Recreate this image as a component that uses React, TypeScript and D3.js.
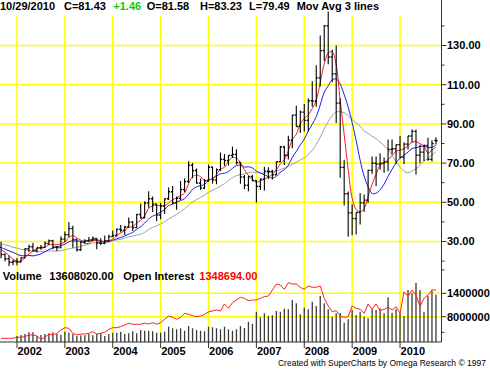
import React from "react";
import * as d3 from "d3";

// Monthly bars: Sep 2001 .. Oct 2010
const priorCloses = [25.74, 29.01, 32.5, 27.43, 33.12, 30.84, 32.7, 33.82, 26.8, 28.66, 27.39, 26.29, 28.46, 28.37, 26.25, 26.35, 27.2];

const openP = [
  27.0, 23.4, 21.2, 19.4,
  19.8, 19.5, 21.7, 26.3, 27.3, 25.3, 26.9, 27.0, 29.0, 30.4, 27.2, 26.9,
  31.2, 33.5, 36.6, 31.0, 25.8, 29.6, 30.2, 30.5, 31.6, 29.2, 29.1, 30.4,
  32.5, 33.1, 36.2, 35.8, 37.4, 39.9, 37.1, 43.8, 42.1, 49.6, 51.8, 49.1,
  43.5, 48.2, 51.8, 55.4, 49.7, 52.0, 56.5, 60.6, 68.9, 66.2, 59.8, 57.3,
  61.0, 67.9, 61.4, 66.6, 71.9, 71.3, 73.9, 74.4, 70.3, 62.9, 58.7, 63.1,
  61.1, 58.1, 61.8, 65.9, 65.7, 64.0, 70.7, 78.2, 74.0, 81.7, 94.5, 88.7,
  96.0, 91.8, 101.8, 101.6, 113.5, 127.4, 140.0, 124.1, 115.5, 100.6, 67.8, 54.4,
  44.6, 41.7, 44.8, 49.7, 51.1, 66.3, 69.9, 69.5, 70.0, 70.6, 77.0, 77.3,
  79.4, 72.9, 79.7, 83.8, 86.2, 74.0, 75.6, 79.0, 71.9, 81.58,
];
const highP = [
  29.9, 23.9, 22.9, 20.6,
  21.6, 21.9, 26.5, 28.4, 29.4, 26.9, 28.2, 30.0, 31.0, 30.9, 27.5, 32.7,
  35.1, 40.0, 38.0, 31.1, 30.2, 31.2, 32.3, 32.5, 31.7, 31.7, 33.0, 33.4,
  35.6, 36.6, 38.4, 38.0, 42.3, 40.4, 44.0, 49.4, 50.5, 55.7, 52.9, 49.1,
  49.8, 52.0, 57.6, 58.3, 53.0, 60.9, 62.1, 70.9, 70.0, 67.2, 62.1, 61.9,
  69.2, 68.3, 67.3, 75.4, 74.6, 74.0, 78.4, 77.1, 70.4, 63.9, 63.5, 64.0,
  61.3, 62.2, 68.1, 67.9, 66.6, 70.7, 78.8, 78.8, 83.9, 94.7, 99.3, 96.8,
  100.1, 103.0, 111.8, 119.9, 135.1, 140.4, 147.3, 127.8, 130.0, 103.1, 71.7, 55.5,
  49.0, 44.8, 54.7, 54.0, 66.6, 73.4, 73.4, 75.0, 72.9, 82.0, 82.0, 79.4,
  84.0, 80.5, 83.8, 87.2, 87.2, 79.4, 79.3, 82.9, 81.6, 83.23,
];
const lowP = [
  21.5, 19.9, 17.5, 17.9,
  17.9, 19.3, 21.5, 24.7, 24.9, 24.4, 25.8, 26.5, 28.3, 26.1, 25.1, 26.5,
  29.6, 32.2, 26.8, 24.9, 25.1, 28.9, 29.8, 30.4, 26.0, 28.2, 28.6, 30.0,
  32.2, 32.6, 34.7, 33.3, 37.0, 35.4, 36.9, 41.7, 41.8, 47.2, 45.1, 40.3,
  41.3, 44.0, 51.2, 49.1, 46.2, 51.2, 55.3, 59.9, 62.3, 59.6, 56.3, 56.7,
  60.5, 59.5, 59.2, 65.9, 68.5, 68.8, 72.6, 69.3, 59.5, 56.6, 55.6, 60.7,
  49.9, 56.3, 56.0, 61.9, 61.6, 63.9, 70.6, 69.0, 71.8, 77.6, 88.6, 85.4,
  86.1, 86.1, 98.7, 98.7, 109.1, 122.1, 120.4, 111.3, 90.5, 62.5, 48.4, 32.4,
  33.2, 33.6, 38.7, 45.0, 49.7, 64.6, 58.3, 66.6, 65.1, 65.9, 74.5, 69.5,
  72.4, 69.5, 77.0, 80.6, 64.2, 69.9, 71.1, 71.2, 70.8, 79.49,
];
const closeP = [
  23.4, 21.2, 19.4, 19.8,
  19.5, 21.7, 26.3, 27.3, 25.3, 26.9, 27.0, 29.0, 30.4, 27.2, 26.9, 31.2,
  33.5, 36.6, 31.0, 25.8, 29.6, 30.2, 30.5, 31.6, 29.2, 29.1, 30.4, 32.5,
  33.1, 36.2, 35.8, 37.4, 39.9, 37.1, 43.8, 42.1, 49.6, 51.8, 49.1, 43.5,
  48.2, 51.8, 55.4, 49.7, 52.0, 56.5, 60.6, 68.9, 66.2, 59.8, 57.3, 61.0,
  67.9, 61.4, 66.6, 71.9, 71.3, 73.9, 74.4, 70.3, 62.9, 58.7, 63.1, 61.1,
  58.1, 61.8, 65.9, 65.7, 64.0, 70.7, 78.2, 74.0, 81.7, 94.5, 88.7, 96.0,
  91.8, 101.8, 101.6, 113.5, 127.4, 140.0, 124.1, 115.5, 100.6, 67.8, 54.4, 44.6,
  41.7, 44.8, 49.7, 51.1, 66.3, 69.9, 69.5, 70.0, 70.6, 77.0, 77.3, 79.4,
  72.9, 79.7, 83.8, 86.2, 74.0, 75.6, 79.0, 71.9, 79.97, 81.43,
];

// Volume (millions of contracts), Jan 2002 .. Oct 2010
const volumeM = [
  3.05, 3.3, 3.56, 4.0, 4.0, 3.05, 3.3, 3.56, 3.74, 4.0, 3.56, 3.3,
  4.15, 3.9, 3.56, 3.05, 3.23, 3.23, 3.56, 3.23, 3.56, 3.74, 3.05, 3.56,
  3.9, 3.9, 4.15, 3.56, 3.74, 4.26, 3.74, 4.59, 4.41, 4.41, 4.26, 3.9,
  3.9, 4.15, 5.44, 5.03, 4.77, 5.03, 4.41, 5.62, 5.03, 4.59, 4.41, 4.26,
  5.44, 5.28, 5.03, 4.77, 5.44, 4.77, 4.41, 4.77, 5.62, 5.1, 6.7, 6.13,
  9.28, 7.85, 8.87, 8.18, 8.36, 9.46, 9.28, 10.05, 9.9, 12.28, 11.44, 8.62,
  10.31, 9.9, 11.85, 10.74, 13.31, 11.44, 9.9, 8.0, 8.87, 8.87, 6.46, 7.33,
  9.72, 8.44, 9.28, 8.0, 7.59, 9.9, 9.72, 10.15, 8.87, 12.97, 9.03, 9.9,
  8.87, 8.18, 14.85, 14.0, 16.7, 14.85, 9.28, 13.31, 14.67, 13.6,
];
const volumeStart = 4;

// Open interest (thousands), Sep 2001 .. Oct 2010
const openInterestK = [
  394, 394, 394, 394,
  414, 414, 426, 460, 460, 440, 375, 414, 473, 460, 493, 558,
  604, 592, 493, 460, 479, 479, 493, 525, 479, 493, 513, 572,
  604, 604, 624, 657, 691, 671, 671, 671, 691, 677, 703, 671,
  703, 770, 835, 809, 770, 809, 888, 869, 841, 821, 835, 869,
  914, 934, 954, 934, 1072, 987, 1098, 1151, 1204, 1185, 1137, 1151,
  1151, 1185, 1216, 1230, 1349, 1467, 1447, 1362, 1493, 1467, 1467, 1402,
  1362, 1428, 1402, 1402, 1428, 1185, 1033, 920, 940, 835, 809, 821,
  1033, 987, 967, 888, 1072, 967, 1072, 940, 967, 1007, 954, 1019,
  888, 1315, 1216, 1349, 1250, 1019, 1185, 1250, 1349, 1349,
];

const yearLabels = ["2002", "2003", "2004", "2005", "2006", "2007", "2008", "2009", "2010"];
const yearIndex = [4, 16, 28, 40, 52, 64, 76, 88, 100];
const priceTicks = [130, 110, 90, 70, 50, 30];
const priceMinor = [140, 120, 100, 80, 60, 40, 20];
const volTicks = [14, 8];
const volTickLabels = ["1400000", "8000000"];
const volMinor = [20, 4];
const maPeriods = [4, 9, 18];
const maColors = ["#ff1a1a", "#1a1aff", "#a0a0a0"];

const FONT = "'Liberation Sans', Arial, Helvetica, sans-serif";

export default function App() {
  const N = closeP.length;
  const x = d3.scaleLinear().domain([0, N - 1]).range([1.04, 1.04 + (N - 1) * 3.99]);
  const yP = d3.scaleLinear().domain([30, 130]).range([241.5, 45.5]);
  const yV = d3.scaleLinear().domain([8, 14]).range([316.7, 293.3]);
  const yOI = d3.scaleLinear().domain([394, 1348.7]).range([338.3, 290]);
  const axisX = 441.5;
  const baseY = 342;

  const all = priorCloses.concat(closeP);
  const off = priorCloses.length;
  const maSeries = maPeriods.map((n) =>
    closeP.map((_, i) => d3.mean(all.slice(off + i - n + 1, off + i + 1)) as number)
  );
  const maLine = d3
    .line<number>()
    .x((_, i) => x(i))
    .y((d) => yP(d))
    .curve(d3.curveCatmullRom);
  const oiLine = d3
    .line<number>()
    .x((_, i) => x(i))
    .y((d) => yOI(d));

  const bold = { fontFamily: FONT, fontWeight: 700, fontSize: 11 } as const;

  return (
    <svg
      width={490}
      height={369}
      style={{ position: "absolute", left: 0, top: 0, background: "#fff" }}
    >
      <rect x={0} y={0} width={490} height={369} fill="#fff" />
      {/* grid */}
      {yearIndex.map((i) => (
        <line key={"vg" + i} x1={x(i)} x2={x(i)} y1={16} y2={baseY} stroke="#ffff00" strokeWidth={1.5} />
      ))}
      {priceTicks.map((v) => (
        <line key={"hg" + v} x1={0} x2={axisX} y1={yP(v)} y2={yP(v)} stroke="#ffff00" strokeWidth={1.5} />
      ))}
      {volTicks.map((v) => (
        <line key={"vgv" + v} x1={0} x2={axisX} y1={yV(v)} y2={yV(v)} stroke="#ffff00" strokeWidth={1.5} />
      ))}

      {/* volume bars */}
      {volumeM.map((v, j) => (
        <line
          key={"vb" + j}
          x1={x(j + volumeStart)}
          x2={x(j + volumeStart)}
          y1={baseY}
          y2={yV(v)}
          stroke="#3a3a3a"
          strokeWidth={1.3}
        />
      ))}
      <path d={oiLine(openInterestK) || ""} fill="none" stroke="#ff2020" strokeWidth={1} />

      {/* moving averages */}
      {maSeries
        .slice()
        .reverse()
        .map((s, k) => (
          <path
            key={"ma" + k}
            d={maLine(s) || ""}
            fill="none"
            stroke={maColors[maColors.length - 1 - k]}
            strokeWidth={1}
          />
        ))}

      {/* OHLC bars */}
      {closeP.map((c, i) => {
        const xi = x(i);
        return (
          <g key={"b" + i} stroke="#000">
            <line x1={xi} x2={xi} y1={yP(highP[i])} y2={yP(lowP[i])} strokeWidth={1.1} />
            <line x1={xi - 1.6} x2={xi} y1={yP(openP[i])} y2={yP(openP[i])} strokeWidth={1.4} />
            <line x1={xi} x2={xi + 1.6} y1={yP(c)} y2={yP(c)} strokeWidth={1.4} />
          </g>
        );
      })}

      {/* axes */}
      <line x1={axisX} x2={axisX} y1={0} y2={baseY} stroke="#333" strokeWidth={1} />
      <line x1={0} x2={axisX} y1={baseY} y2={baseY} stroke="#333" strokeWidth={1} />
      {priceTicks.map((v) => (
        <g key={"pt" + v}>
          <line x1={axisX} x2={axisX + 5} y1={yP(v)} y2={yP(v)} stroke="#333" />
          <text x={axisX + 5.5} y={yP(v)} dy="0.36em" {...bold} fill="#000">
            {v.toFixed(2)}
          </text>
        </g>
      ))}
      {priceMinor.map((v) => (
        <line key={"pm" + v} x1={axisX} x2={axisX + 3} y1={yP(v)} y2={yP(v)} stroke="#333" />
      ))}
      {volTicks.map((v, k) => (
        <g key={"vt" + v}>
          <line x1={axisX} x2={axisX + 5} y1={yV(v)} y2={yV(v)} stroke="#333" />
          <text x={axisX + 5.5} y={yV(v)} dy="0.36em" {...bold} fill="#000">
            {volTickLabels[k]}
          </text>
        </g>
      ))}
      {volMinor.map((v) => (
        <line key={"vm" + v} x1={axisX} x2={axisX + 3} y1={yV(v)} y2={yV(v)} stroke="#333" />
      ))}
      {yearIndex.map((i, k) => (
        <g key={"yt" + i}>
          <line x1={x(i)} x2={x(i)} y1={baseY} y2={baseY + 6} stroke="#333" />
          <text x={x(i) + 0.5} y={355} {...bold} fill="#000">
            {yearLabels[k]}
          </text>
        </g>
      ))}

      {/* header */}
      <text y={10} {...bold} fill="#000">
        <tspan x={0}>10/29/2010</tspan>
        <tspan x={64}>C=81.43</tspan>
        <tspan x={113.3} fill="#00d000">+1.46</tspan>
        <tspan x={146.7}>O=81.58</tspan>
        <tspan x={200}>H=83.23</tspan>
        <tspan x={249}>L=79.49</tspan>
        <tspan x={296.7}>Mov Avg 3 lines</tspan>
      </text>
      <text y={280} {...bold} fill="#000">
        <tspan x={2.7}>Volume</tspan>
        <tspan x={49.3}>13608020.00</tspan>
        <tspan x={123.3}>Open Interest</tspan>
        <tspan x={199.3} fill="#ff0000">1348694.00</tspan>
      </text>
      <text
        x={486}
        y={366}
        textAnchor="end"
        fontFamily={FONT}
        fontSize={8.5}
        fill="#000"
      >
        Created with SuperCharts by Omega Research © 1997
      </text>
    </svg>
  );
}
